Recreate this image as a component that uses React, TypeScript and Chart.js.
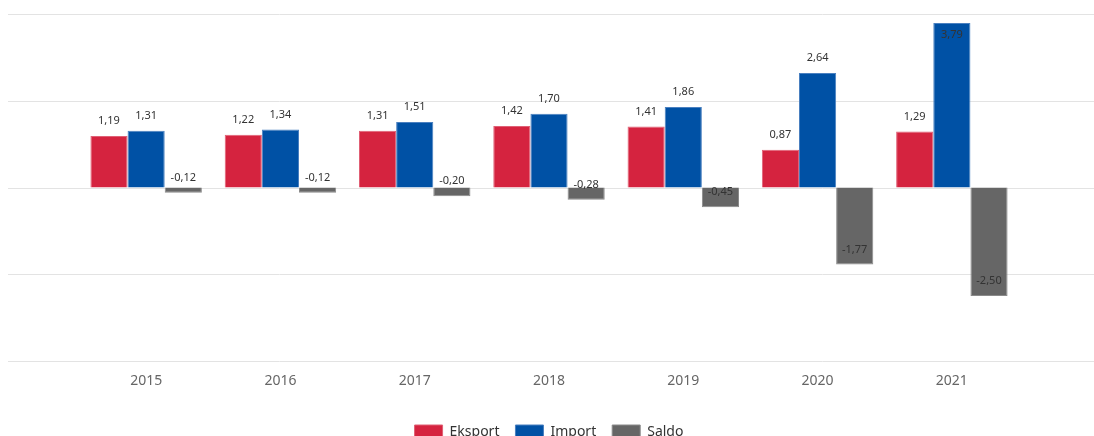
import React, { useEffect, useRef } from "react";
import { Chart, registerables } from "chart.js";

Chart.register(...registerables);

const years = ["2015", "2016", "2017", "2018", "2019", "2020", "2021"];
const eksport = [1.19, 1.22, 1.31, 1.42, 1.41, 0.87, 1.29];
const importV = [1.31, 1.34, 1.51, 1.7, 1.86, 2.64, 3.79];
const saldo = [-0.12, -0.12, -0.2, -0.28, -0.45, -1.77, -2.5];
const yTicks = [-4, -2, 0, 2, 4];

const FONT = "'Noto Sans', 'Open Sans', sans-serif";

const gridPlugin = {
  id: "fullGrid",
  beforeDatasetsDraw(chart: any) {
    const { ctx, scales } = chart;
    const y = scales.y;
    ctx.save();
    ctx.strokeStyle = "#e3e3e3";
    ctx.lineWidth = 1;
    yTicks.forEach((t) => {
      const py = Math.round(y.getPixelForValue(t)) + 0.5;
      ctx.beginPath();
      ctx.moveTo(0, py);
      ctx.lineTo(chart.width, py);
      ctx.stroke();
    });
    ctx.restore();
  },
};

const labelPlugin = {
  id: "barLabels",
  afterDatasetsDraw(chart: any) {
    const { ctx, chartArea } = chart;
    ctx.save();
    ctx.font = "11px " + FONT;
    ctx.textAlign = "center";
    ctx.textBaseline = "middle";
    ctx.fillStyle = "#333333";
    chart.data.datasets.forEach((ds: any, di: number) => {
      const meta = chart.getDatasetMeta(di);
      meta.data.forEach((el: any, i: number) => {
        const v = ds.data[i];
        let ly = el.y - 15;
        if (ly < chartArea.top + 8) ly = el.y + 12;
        ctx.fillText(v.toFixed(2).replace(".", ","), el.x, ly);
      });
    });
    ctx.restore();
  },
};

export default function App() {
  const ref = useRef<HTMLCanvasElement>(null);
  useEffect(() => {
    if (!ref.current) return;
    const chart = new Chart(ref.current, {
      type: "bar",
      data: {
        labels: years,
        datasets: [
          { label: "Eksport", data: eksport, backgroundColor: "#d5233f", borderColor: "#e06075", borderWidth: 1 },
          { label: "Import", data: importV, backgroundColor: "#0051a5", borderColor: "#4a80c0", borderWidth: 1 },
          { label: "Saldo", data: saldo, backgroundColor: "#666666", borderColor: "#8a8a8a", borderWidth: 1 },
        ],
      },
      options: {
        animation: false,
        responsive: false,
        maintainAspectRatio: false,
        datasets: { bar: { barPercentage: 1, categoryPercentage: 0.83 } },
        layout: { padding: { left: 71, right: 75, top: 6, bottom: 0 } },
        scales: {
          x: {
            grid: { display: false },
            border: { display: false },
            ticks: { color: "#666666", font: { family: FONT, size: 14 }, padding: 3 },
            afterFit: (s: any) => {
              s.height += 17;
            },
          },
          y: {
            display: false,
            min: -4,
            max: 4,
          },
        },
        plugins: {
          legend: {
            position: "bottom",
            labels: {
              boxWidth: 28,
              boxHeight: 14,
              padding: 16,
              color: "#333333",
              font: { family: FONT, size: 14 },
            },
          },
          tooltip: { enabled: false },
        },
      },
      plugins: [gridPlugin, labelPlugin],
    });
    return () => chart.destroy();
  }, []);
  return (
    <div style={{ position: "fixed", left: 8, top: 8, width: 1086, height: 441 }}>
      <canvas ref={ref} width={1086} height={441} style={{ display: "block" }} />
    </div>
  );
}
